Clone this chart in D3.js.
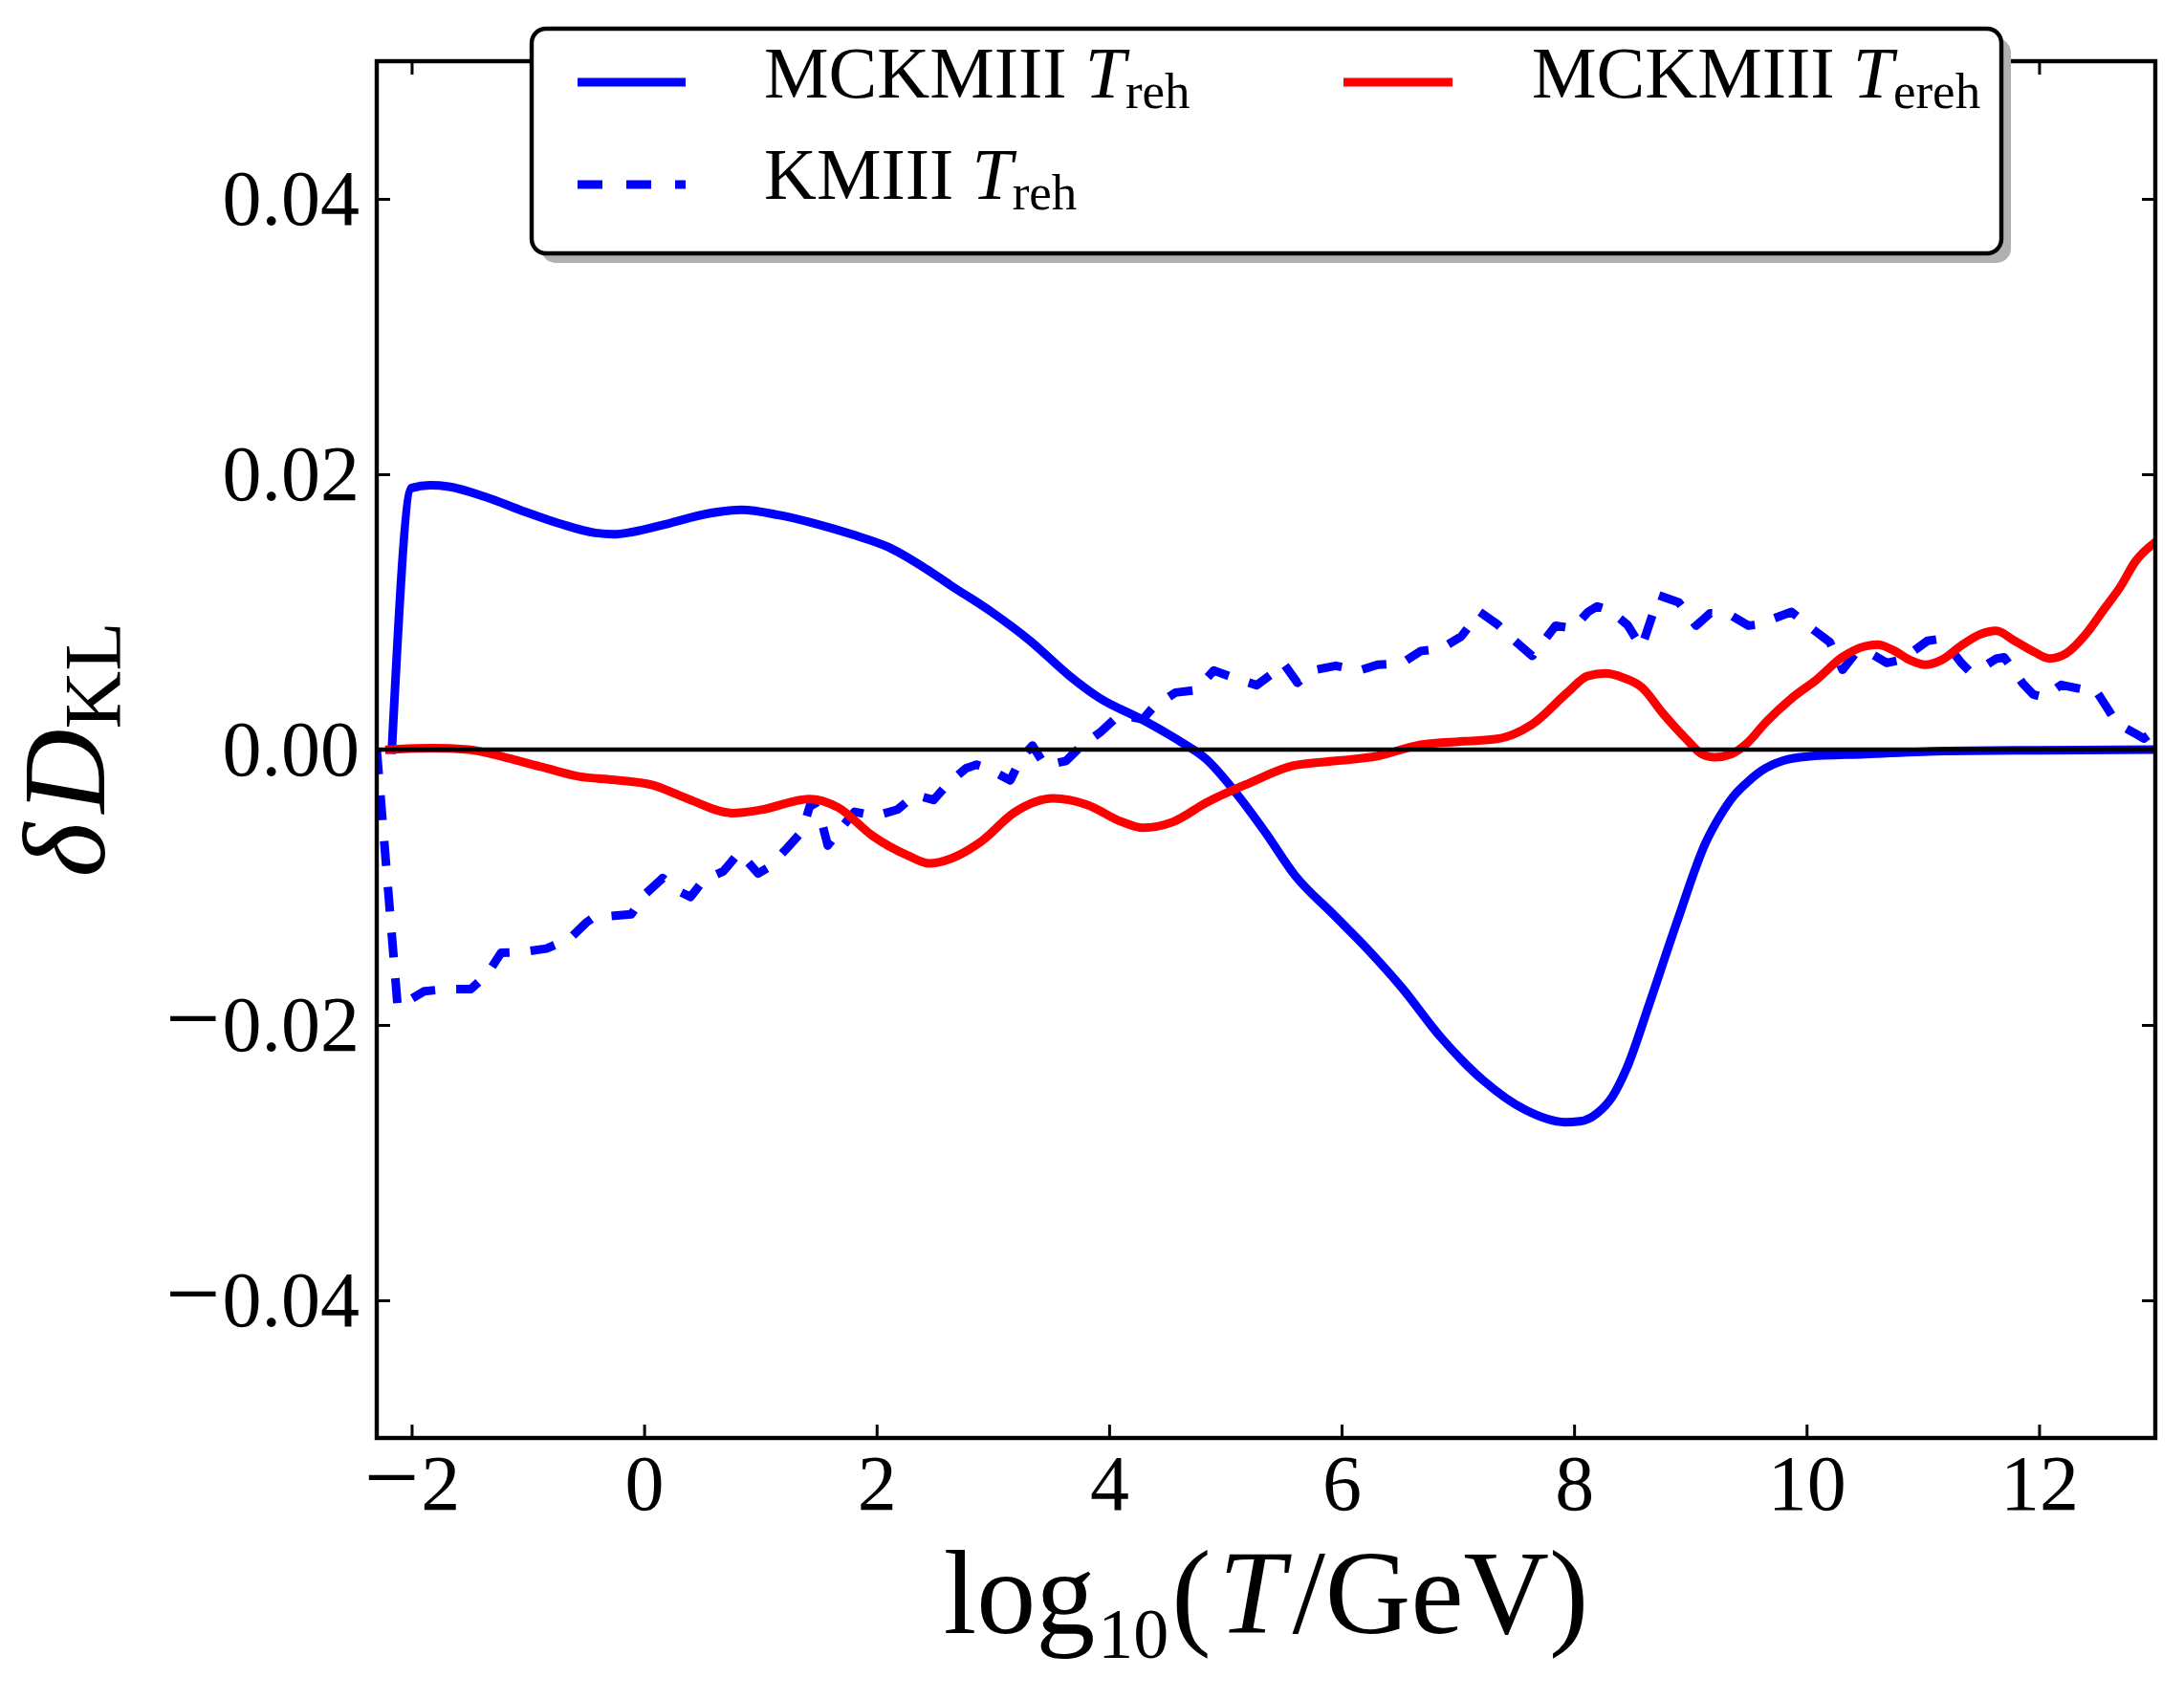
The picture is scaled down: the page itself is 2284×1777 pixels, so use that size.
<!DOCTYPE html>
<html>
<head>
<meta charset="utf-8">
<script src="https://cdn.jsdelivr.net/npm/d3@7"></script>
<style>
  html, body { margin: 0; padding: 0; background: #fff; }
  svg { display: block; }
  text { font-family: "Liberation Serif", "DejaVu Serif", serif; fill: #000; }
</style>
</head>
<body>
<svg id="chart" width="2284" height="1777"></svg>
<script>
// ---------------- data ----------------
const xTicks = [-2, 0, 2, 4, 6, 8, 10, 12];
const xTickLabels = ["\u22122", "0", "2", "4", "6", "8", "10", "12"];
const yTicks = [-0.04, -0.02, 0.0, 0.02, 0.04];
const yTickLabels = ["\u22120.04", "\u22120.02", "0.00", "0.02", "0.04"];
const xDomain = [-2.3, 13];
const yDomain = [-0.05, 0.05];

// MCKMIII T_reh (blue solid)
const mckmiiiReh = [
  [-2.17, 0.0], [-2.0, 0.0190], [-1.84, 0.0192], [-1.68, 0.0191], [-1.365, 0.01835],
  [-1.05, 0.01735], [-0.73, 0.01642], [-0.42, 0.01574], [-0.26, 0.01564], [-0.105, 0.0158],
  [0.21, 0.01642], [0.525, 0.0171], [0.84, 0.01741], [1.156, 0.01704], [1.47, 0.01642],
  [1.785, 0.01564], [2.1, 0.01471], [2.43, 0.0131], [2.63, 0.01197], [2.99, 0.00999],
  [3.325, 0.00787], [3.655, 0.00539], [3.91, 0.00379], [4.28, 0.0022], [4.61, 0.0006],
  [4.83, -0.00065], [5.09, -0.00313], [5.34, -0.00596], [5.6, -0.00915], [5.93, -0.01198],
  [6.22, -0.01447], [6.52, -0.01731], [6.85, -0.02086], [7.22, -0.02404], [7.58, -0.02617],
  [7.92, -0.02706], [8.05, -0.0270], [8.2, -0.0264], [8.33, -0.0252], [8.45, -0.0232],
  [8.65, -0.0184], [8.89, -0.0124], [9.13, -0.0068], [9.25, -0.0049], [9.37, -0.0034],
  [9.5, -0.0023], [9.62, -0.0015], [9.8, -0.0008], [10.01, -0.0005], [10.5, -0.00033],
  [11.2, -0.0001], [12.0, -0.00005], [13.0, 0.0]
];

// KMIII T_reh (blue dashed)
const kmiiiReh = [
  [-2.3, 0.0], [-2.12, -0.0187], [-1.89, -0.01755], [-1.71, -0.0174], [-1.49, -0.0174],
  [-1.35, -0.0163], [-1.23, -0.01476], [-1.04, -0.0147], [-0.84, -0.01445], [-0.64, -0.01373],
  [-0.5, -0.01258], [-0.42, -0.0121], [-0.32, -0.01212], [-0.11, -0.01196], [0.0, -0.01057],
  [0.16, -0.00933], [0.29, -0.01026], [0.40, -0.0107], [0.51, -0.0095], [0.68, -0.00885],
  [0.82, -0.00746], [0.98, -0.0090], [1.07, -0.00855], [1.23, -0.00716], [1.36, -0.00592],
  [1.44, -0.0037], [1.51, -0.00468], [1.58, -0.00697], [1.69, -0.00576], [1.81, -0.00452],
  [1.99, -0.00482], [2.18, -0.00436], [2.33, -0.00328], [2.49, -0.00366], [2.62, -0.00242],
  [2.77, -0.00135], [2.86, -0.0011], [2.95, -0.00135], [3.15, -0.00224], [3.24, -0.00065],
  [3.34, 0.0003], [3.45, -0.00117], [3.63, -0.00082], [3.76, 0.00025], [3.93, 0.0013],
  [4.09, 0.00255], [4.29, 0.0022], [4.38, 0.00308], [4.57, 0.00414], [4.75, 0.00432],
  [4.9, 0.00574], [5.08, 0.0052], [5.27, 0.00468], [5.41, 0.00556], [5.5, 0.00627],
  [5.62, 0.00485], [5.74, 0.00574], [5.95, 0.00609], [6.15, 0.00574], [6.31, 0.00616],
  [6.52, 0.00627], [6.68, 0.00716], [6.86, 0.00734], [7.03, 0.00822], [7.19, 0.00999],
  [7.34, 0.0091], [7.47, 0.00804], [7.64, 0.0068], [7.74, 0.0079], [7.84, 0.0090],
  [7.99, 0.0088], [8.12, 0.0100], [8.2, 0.0104], [8.31, 0.0101], [8.46, 0.00905],
  [8.58, 0.0074], [8.73, 0.0112], [8.9, 0.0107], [9.05, 0.0090], [9.17, 0.0099],
  [9.34, 0.0098], [9.5, 0.0090], [9.6, 0.0091], [9.71, 0.0095], [9.87, 0.0100],
  [10.06, 0.0087], [10.2, 0.0078], [10.31, 0.0058], [10.42, 0.0070], [10.53, 0.0071],
  [10.69, 0.0063], [10.8, 0.0065], [10.91, 0.0071], [11.04, 0.0079], [11.12, 0.0080],
  [11.22, 0.0075], [11.33, 0.0063], [11.4, 0.0057], [11.48, 0.0058], [11.63, 0.0066],
  [11.7, 0.0067], [11.76, 0.0060], [11.86, 0.0048], [11.95, 0.0040], [12.04, 0.0038],
  [12.19, 0.0047], [12.3, 0.0045], [12.42, 0.0043], [12.48, 0.0044], [12.55, 0.0035],
  [12.67, 0.0019], [12.82, 0.0012], [12.9, 0.0008], [13.0, 0.0014]
];

// MCKMIII T_ereh (red solid)
const mckmiiiEreh = [
  [-2.19, 0.0], [-1.82, 0.0001], [-1.51, 0.0], [-1.19, -0.00058], [-0.88, -0.00126],
  [-0.56, -0.00195], [-0.25, -0.0022], [0.066, -0.00256], [0.38, -0.00359], [0.76, -0.00461],
  [1.01, -0.00437], [1.42, -0.00359], [1.67, -0.00421], [1.96, -0.00623], [2.27, -0.0077],
  [2.455, -0.00827], [2.64, -0.00791], [2.9, -0.00667], [3.19, -0.00454], [3.52, -0.00355],
  [3.81, -0.00401], [4.11, -0.00525], [4.29, -0.00568], [4.55, -0.00525], [4.84, -0.00384],
  [5.21, -0.00242], [5.58, -0.00117], [5.95, -0.00082], [6.31, -0.00047], [6.68, 0.00035],
  [7.05, 0.0006], [7.34, 0.00078], [7.64, 0.00184], [7.95, 0.0042], [8.115, 0.00534],
  [8.27, 0.00553], [8.42, 0.00523], [8.58, 0.00454], [8.77, 0.00257], [8.97, 0.00072],
  [9.10, -0.00033], [9.21, -0.00056], [9.35, -0.00033], [9.49, 0.00048], [9.65, 0.00199],
  [9.87, 0.00372], [10.09, 0.00511], [10.31, 0.00673], [10.5, 0.0075], [10.61, 0.00762],
  [10.75, 0.0072], [10.89, 0.0065], [11.02, 0.00616], [11.16, 0.0065], [11.33, 0.00755],
  [11.49, 0.00836], [11.63, 0.00863], [11.79, 0.0079], [11.96, 0.00708], [12.09, 0.00662],
  [12.23, 0.00697], [12.40, 0.00836], [12.56, 0.01021], [12.70, 0.01183], [12.83, 0.01368],
  [13.0, 0.01507]
];

const legendLabels = [
  { name: "MCKMIII ", sub: "reh", color: "#0000ff", dash: null },
  { name: "KMIII ", sub: "reh", color: "#0000ff", dash: "26,25" },
  { name: "MCKMIII ", sub: "ereh", color: "#ff0000", dash: null }
];

// ---------------- layout ----------------
const W = 2284, H = 1777;
const plot = { left: 394, right: 2254, top: 64, bottom: 1504 };

const svg = d3.select("#chart");
svg.append("rect").attr("width", W).attr("height", H).attr("fill", "#fff");

const x = d3.scaleLinear().domain(xDomain).range([plot.left, plot.right]);
const y = d3.scaleLinear().domain(yDomain).range([plot.bottom, plot.top]);

svg.append("defs").append("clipPath").attr("id", "clip")
  .append("rect")
  .attr("x", plot.left).attr("y", plot.top)
  .attr("width", plot.right - plot.left).attr("height", plot.bottom - plot.top);

const dataG = svg.append("g").attr("clip-path", "url(#clip)");

const smooth = d3.line().x(d => x(d[0])).y(d => y(d[1])).curve(d3.curveMonotoneX);
const straight = d3.line().x(d => x(d[0])).y(d => y(d[1])).curve(d3.curveLinear);

dataG.append("path").datum(mckmiiiReh)
  .attr("d", smooth).attr("fill", "none").attr("stroke", "#0000ff")
  .attr("stroke-width", 9).attr("stroke-linejoin", "round").attr("stroke-linecap", "square");

dataG.append("path").datum(kmiiiReh)
  .attr("d", straight).attr("fill", "none").attr("stroke", "#0000ff")
  .attr("stroke-width", 9).attr("stroke-linejoin", "round").attr("stroke-linecap", "butt")
  .attr("stroke-dasharray", "26,22");

dataG.append("path").datum(mckmiiiEreh)
  .attr("d", smooth).attr("fill", "none").attr("stroke", "#ff0000")
  .attr("stroke-width", 9).attr("stroke-linejoin", "round").attr("stroke-linecap", "square");

// zero line
dataG.append("line")
  .attr("x1", plot.left).attr("x2", plot.right)
  .attr("y1", y(0)).attr("y2", y(0))
  .attr("stroke", "#000").attr("stroke-width", 4.5);

// ---------------- axes ----------------
const tickFont = 82;
const xAxisB = d3.axisBottom(x).tickValues(xTicks)
  .tickFormat((d, i) => xTickLabels[i]).tickSizeInner(-14).tickSizeOuter(0).tickPadding(17);
const xAxisT = d3.axisTop(x).tickValues(xTicks).tickFormat("").tickSizeInner(-14).tickSizeOuter(0);
const yAxisL = d3.axisLeft(y).tickValues(yTicks)
  .tickFormat((d, i) => yTickLabels[i]).tickSizeInner(-14).tickSizeOuter(0).tickPadding(18);
const yAxisR = d3.axisRight(y).tickValues(yTicks).tickFormat("").tickSizeInner(-14).tickSizeOuter(0);

function styleAxis(g) {
  g.select(".domain").remove();
  g.selectAll(".tick line").attr("stroke", "#000").attr("stroke-width", 3);
  g.selectAll(".tick text")
    .attr("font-family", "Liberation Serif, DejaVu Serif, serif")
    .attr("font-size", tickFont).attr("fill", "#000");
}

// widen the minus sign (TeX-like) on negative tick labels
function wideMinus(g) {
  g.selectAll(".tick text").each(function () {
    const t = d3.select(this);
    const s = t.text();
    if (s.startsWith("\u2212")) {
      t.text(null);
      t.append("tspan").attr("font-size", 102).text("\u2212");
      t.append("tspan").attr("dx", 2).text(s.slice(1));
    }
  });
}

svg.append("g").attr("transform", `translate(0,${plot.bottom})`).call(xAxisB).call(styleAxis).call(wideMinus);
svg.append("g").attr("transform", `translate(0,${plot.top})`).call(xAxisT).call(styleAxis);
svg.append("g").attr("transform", `translate(${plot.left},0)`).call(yAxisL).call(styleAxis).call(wideMinus);
svg.append("g").attr("transform", `translate(${plot.right},0)`).call(yAxisR).call(styleAxis);

// frame
svg.append("rect")
  .attr("x", plot.left).attr("y", plot.top)
  .attr("width", plot.right - plot.left).attr("height", plot.bottom - plot.top)
  .attr("fill", "none").attr("stroke", "#000").attr("stroke-width", 4.4);

// x label
const xl = svg.append("text")
  .attr("x", (plot.left + plot.right) / 2).attr("y", 1708)
  .attr("text-anchor", "middle").attr("font-size", 124);
xl.append("tspan").text("log");
xl.append("tspan").attr("font-size", 74).attr("dx", 3).attr("dy", 26).text("10");
xl.append("tspan").attr("dx", 3).attr("dy", -26).text("(");
xl.append("tspan").attr("dx", 8).attr("font-style", "italic").text("T");
xl.append("tspan").attr("dx", 8).text("/GeV)");

// y label
const yl = svg.append("text")
  .attr("transform", `translate(109,${(plot.top + plot.bottom) / 2}) rotate(-90)`)
  .attr("text-anchor", "middle").attr("font-size", 122);
yl.append("tspan").attr("font-style", "italic").text("\u03b4\u200aD");
yl.append("tspan").attr("font-size", 84).attr("dy", 17).text("KL");

// ---------------- legend ----------------
const leg = { x: 556, y: 30, w: 1537, h: 235, r: 15 };
const lg = svg.append("g");
lg.append("rect")
  .attr("x", leg.x + 10).attr("y", leg.y + 10).attr("width", leg.w).attr("height", leg.h)
  .attr("rx", leg.r).attr("fill", "#b0b0b0");
lg.append("rect")
  .attr("x", leg.x).attr("y", leg.y).attr("width", leg.w).attr("height", leg.h)
  .attr("rx", leg.r).attr("fill", "#fff").attr("stroke", "#000").attr("stroke-width", 4.4);

const legPos = [
  { lx1: 604, lx2: 717, ly: 86, tx: 799, ty: 102 },
  { lx1: 604, lx2: 717, ly: 193, tx: 799, ty: 208 },
  { lx1: 1405, lx2: 1519, ly: 86, tx: 1602, ty: 102 }
];

legendLabels.forEach((e, i) => {
  const p = legPos[i];
  const ln = lg.append("line")
    .attr("x1", p.lx1).attr("x2", p.lx2).attr("y1", p.ly).attr("y2", p.ly)
    .attr("stroke", e.color).attr("stroke-width", 9);
  if (e.dash) ln.attr("stroke-dasharray", e.dash);
  const t = lg.append("text").attr("x", p.tx).attr("y", p.ty).attr("font-size", 76);
  t.append("tspan").text(e.name);
  t.append("tspan").attr("font-style", "italic").text("T");
  t.append("tspan").attr("font-size", 53).attr("dy", 11).text(e.sub);
});
</script>
</body>
</html>
